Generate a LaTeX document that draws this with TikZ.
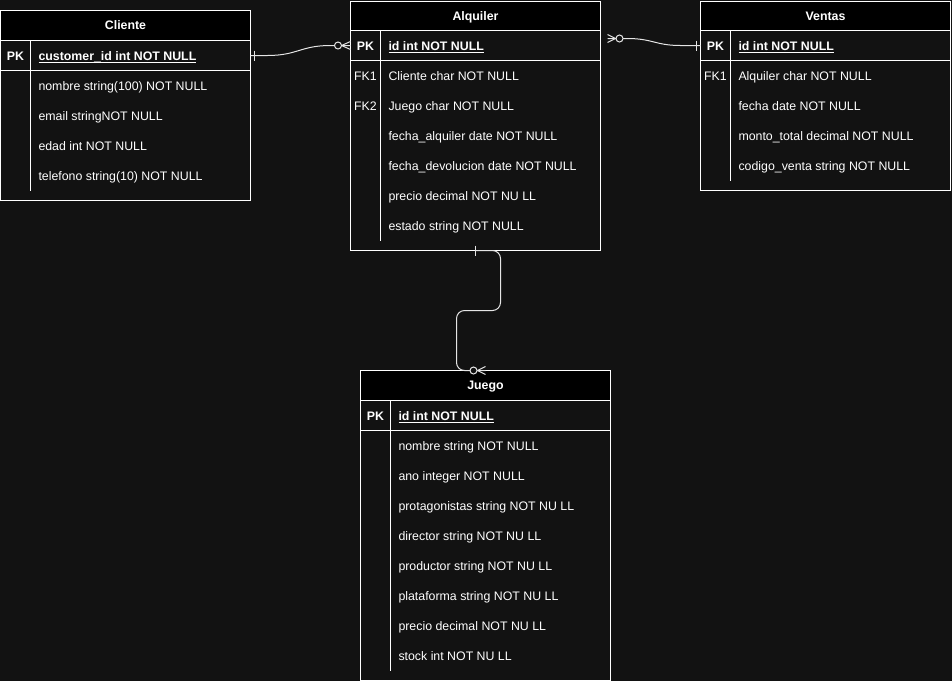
\documentclass[tikz,border=0pt]{standalone}
\usepackage{fontspec}
\setmainfont{Liberation Sans}
\usepackage{tikz}

\definecolor{fondo}{HTML}{121212}

\begin{document}
\begin{tikzpicture}[x=1pt, y=-1pt, line width=1pt, color=white,
	every node/.style={outer sep=0pt, font=\fontsize{12.35}{14}\selectfont, text=white},
	tabla/.style={draw, fill=fondo, minimum width=250pt, inner sep=0pt},
	cabeza/.style={draw, fill=black, minimum width=250pt, minimum height=30pt, text height=8.6pt, text depth=0pt, font=\bfseries\fontsize{12.35}{14}\selectfont},
	fila/.style={draw, minimum width=250pt, minimum height=30pt, inner sep=0pt},
	campo/.style={anchor=west, inner sep=0pt, yshift=-0.6pt, text height=8.8pt, text depth=0pt},
	clave/.style={campo, anchor=center},
	pk/.style={campo, font=\bfseries\fontsize{12.35}{14}\selectfont},
	rel/.style={draw=white!90!black}]
	\fill[fondo] (-0.5,-0.5) rectangle (951.5,680.5);
	\useasboundingbox (-0.5,-0.5) rectangle (951.5,680.5);
	
	% Cliente
	\node[tabla, minimum height=190pt] (cli) at (125,105){};
	\node[cabeza] (cli-h) at (125,25){Cliente};
	\node[fila] (cli-pk) at (125,55){};
	\draw (30,40) -- (30,190);
	\node[clave, font=\bfseries\fontsize{12.35}{14}\selectfont] (cli-k0) at (15,55){PK};
	\node[pk] (cli-f0) at (38,55){customer\_id int NOT NULL};
	\draw ([yshift=-2pt]cli-f0.south west) -- ([yshift=-2pt]cli-f0.south east);
	\node[campo] (cli-f1) at (38,85){nombre string(100) NOT NULL};
	\node[campo] (cli-f2) at (38,115){email stringNOT NULL};
	\node[campo] (cli-f3) at (38,145){edad int NOT NULL};
	\node[campo] (cli-f4) at (38,175){telefono string(10) NOT NULL};
	
	% Alquiler
	\node[tabla, minimum height=249pt] (alq) at (475,125.5){};
	\node[cabeza, minimum height=29pt] (alq-h) at (475,15.5){Alquiler};
	\node[fila] (alq-pk) at (475,45){};
	\draw (380,30) -- (380,240);
	\node[clave, font=\bfseries\fontsize{12.35}{14}\selectfont] (alq-k0) at (365,45){PK};
	\node[pk] (alq-f0) at (388,45){id int NOT NULL};
	\draw ([yshift=-2pt]alq-f0.south west) -- ([yshift=-2pt]alq-f0.south east);
	\node[clave] (alq-k1) at (365,75){FK1};
	\node[campo] (alq-f1) at (388,75){Cliente char NOT NULL};
	\node[clave] (alq-k2) at (365,105){FK2};
	\node[campo] (alq-f2) at (388,105){Juego char NOT NULL};
	\node[campo] (alq-f3) at (388,135){fecha\_alquiler date NOT NULL};
	\node[campo] (alq-f4) at (388,165){fecha\_devolucion date NOT NULL};
	\node[campo] (alq-f5) at (388,195){precio decimal NOT NU LL};
	\node[campo] (alq-f6) at (388,225){estado string NOT NULL};
	
	% Ventas
	\node[tabla, minimum height=189pt] (ven) at (825,95.5){};
	\node[cabeza, minimum height=29pt] (ven-h) at (825,15.5){Ventas};
	\node[fila] (ven-pk) at (825,45){};
	\draw (730,30) -- (730,180);
	\node[clave, font=\bfseries\fontsize{12.35}{14}\selectfont] (ven-k0) at (715,45){PK};
	\node[pk] (ven-f0) at (738,45){id int NOT NULL};
	\draw ([yshift=-2pt]ven-f0.south west) -- ([yshift=-2pt]ven-f0.south east);
	\node[clave] (ven-k1) at (715,75){FK1};
	\node[campo] (ven-f1) at (738,75){Alquiler char NOT NULL};
	\node[campo] (ven-f2) at (738,105){fecha date NOT NULL};
	\node[campo] (ven-f3) at (738,135){monto\_total decimal NOT NULL};
	\node[campo] (ven-f4) at (738,165){codigo\_venta string NOT NULL};
	
	% Juego
	\node[tabla, minimum height=310pt] (jue) at (485,525){};
	\node[cabeza] (jue-h) at (485,385){Juego};
	\node[fila] (jue-pk) at (485,415){};
	\draw (390,400) -- (390,670);
	\node[clave, font=\bfseries\fontsize{12.35}{14}\selectfont] (jue-k0) at (375,415){PK};
	\node[pk] (jue-f0) at (398,415){id int NOT NULL};
	\draw ([yshift=-2pt]jue-f0.south west) -- ([yshift=-2pt]jue-f0.south east);
	\node[campo] (jue-f1) at (398,445){nombre string NOT NULL};
	\node[campo] (jue-f2) at (398,475){ano integer NOT NULL};
	\node[campo] (jue-f3) at (398,505){protagonistas string NOT NU LL};
	\node[campo] (jue-f4) at (398,535){director string NOT NU LL};
	\node[campo] (jue-f5) at (398,565){productor string NOT NU LL};
	\node[campo] (jue-f6) at (398,595){plataforma string NOT NU LL};
	\node[campo] (jue-f7) at (398,625){precio decimal NOT NU LL};
	\node[campo] (jue-f8) at (398,655){stock int NOT NU LL};
	
	% Cliente - Alquiler
	\draw[rel] (cli-pk.east) -- ++(17,0) .. controls +(30,0) and +(-30,0) .. ([xshift=-20pt]alq-pk.west) -- (alq-pk.west);
	\draw[rel] ([xshift=4pt,yshift=5pt]cli-pk.east) -- ([xshift=4pt,yshift=-5pt]cli-pk.east);
	\draw[rel] ([yshift=4pt]alq-pk.west) -- ([xshift=-9pt]alq-pk.west) -- ([yshift=-4pt]alq-pk.west);
	\draw[rel, fill=fondo] ([xshift=-12.5pt]alq-pk.west) circle (3.5pt);
	
	% Alquiler - Ventas
	\coordinate (a2) at ([xshift=7pt,yshift=7pt]alq-pk.east);
	\draw[rel] (a2) -- ++(20,0) .. controls +(25,0) and +(-25,0) .. ([xshift=-20pt]ven-pk.west) -- (ven-pk.west);
	\draw[rel] ([yshift=4pt]a2) -- ([xshift=8pt]a2) -- ([yshift=-4pt]a2);
	\draw[rel, fill=fondo] ([xshift=12pt]a2) circle (3.5pt);
	\draw[rel] ([xshift=-4pt,yshift=5pt]ven-pk.west) -- ([xshift=-4pt,yshift=-5pt]ven-pk.west);
	
	% Alquiler - Juego
	\draw[rel, rounded corners=8pt] (alq.south) -| (500,310) -| (456,370) -- (jue.north);
	\draw[rel] ([yshift=5pt]alq.south) -- ([yshift=-5pt]alq.south);
	\draw[rel] ([yshift=4pt]jue.north) -- ([xshift=-8pt]jue.north) -- ([yshift=-4pt]jue.north);
	\draw[rel, fill=fondo] ([xshift=-12pt]jue.north) circle (3.5pt);
\end{tikzpicture}
\end{document}
